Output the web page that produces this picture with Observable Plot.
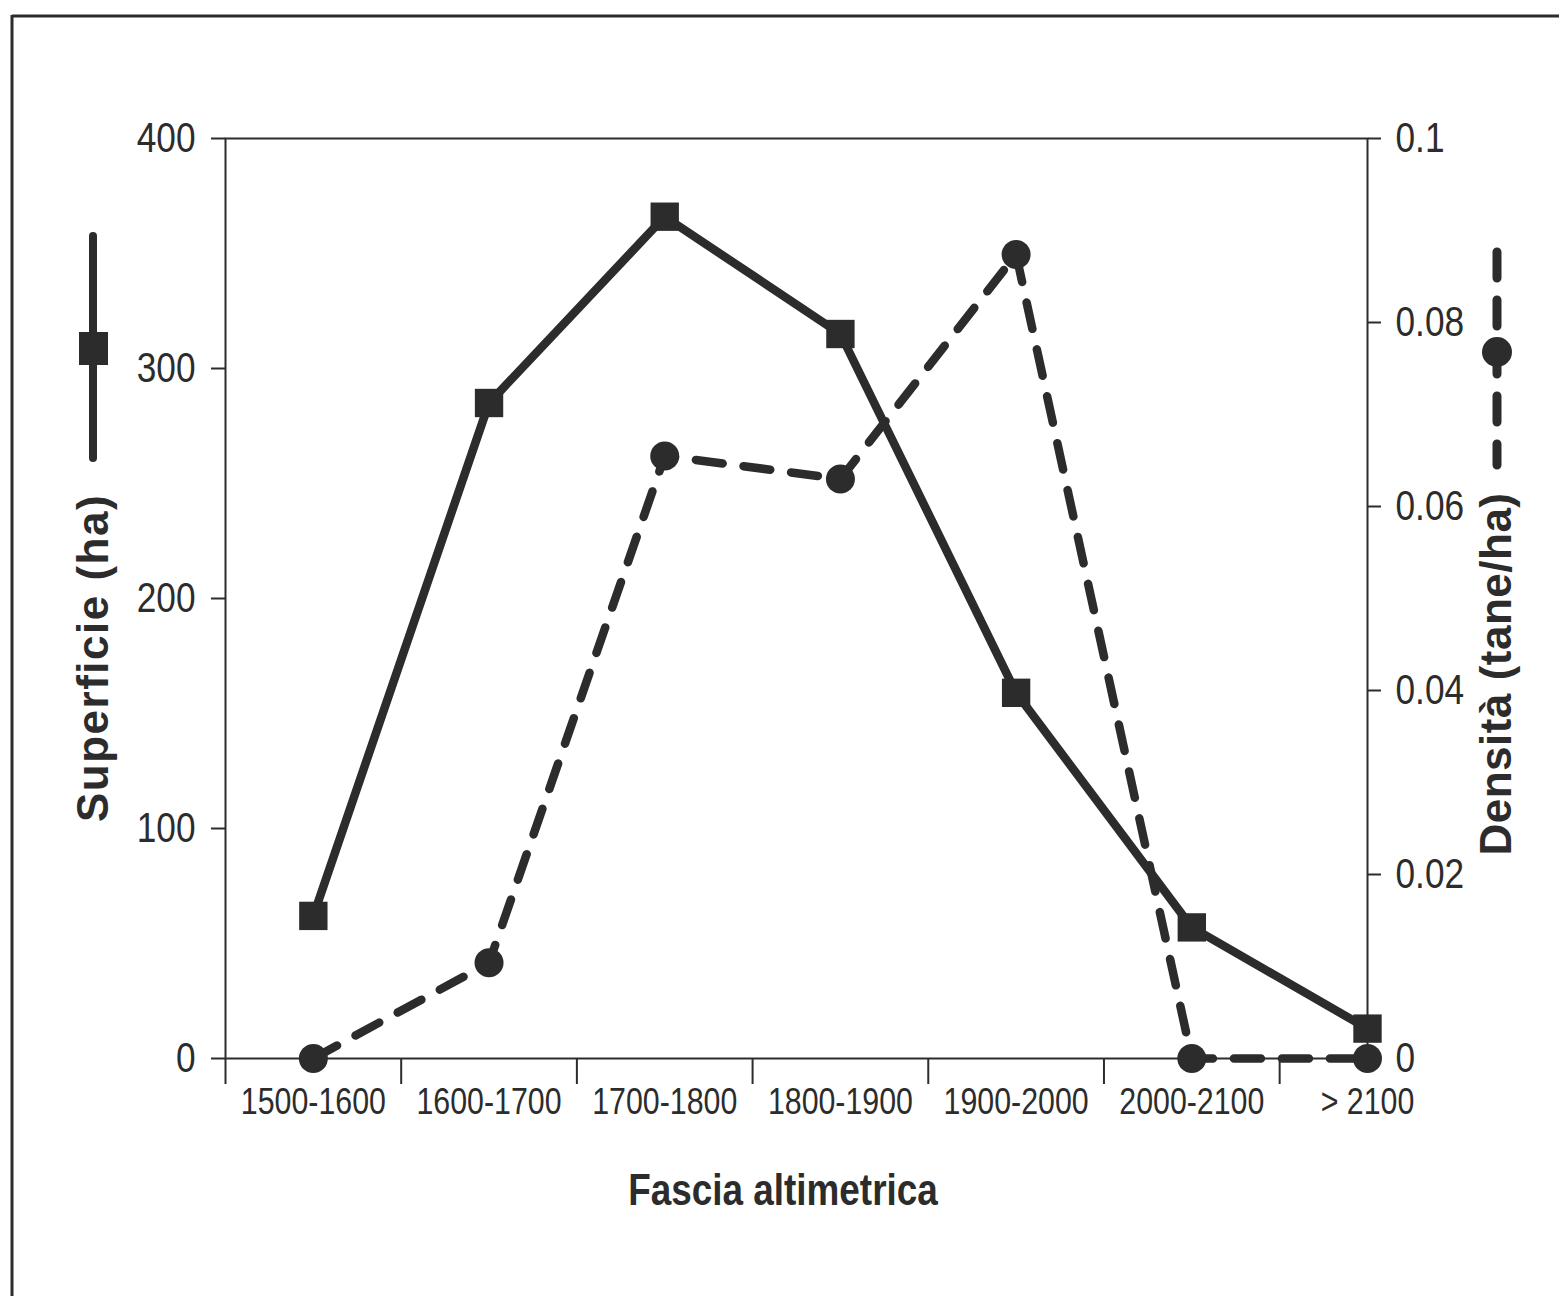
<!DOCTYPE html>
<html>
<head>
<meta charset="utf-8">
<script src="https://cdn.jsdelivr.net/npm/d3@7"></script>
<script src="https://cdn.jsdelivr.net/npm/@observablehq/plot@0.6"></script>
<style>
  html, body { margin: 0; padding: 0; background: #fff; }
  #chart { position: relative; width: 1559px; height: 1296px; }
  svg { display: block; }
</style>
</head>
<body>
<div id="chart"></div>
<script>
// ---- data ----
const categories = ["1500-1600", "1600-1700", "1700-1800", "1800-1900", "1900-2000", "2000-2100", "> 2100"];
const superficie = [62, 285, 366, 315, 159, 57, 13];          // ha (left axis)
const densita = [0, 0.0104, 0.0655, 0.063, 0.0874, 0, 0];      // tane/ha (right axis)
const leftTicks = [0, 100, 200, 300, 400];
const rightTicks = [0, 0.02, 0.04, 0.06, 0.08, 0.1];
const xTitle = "Fascia altimetrica";
const leftTitle = "Superficie (ha)";
const rightTitle = "Densità (tane/ha)";

// right axis maps onto the left scale: 0.1 <-> 400
const k = 400 / 0.1;
const rows = categories.map((c, i) => ({i, cat: c, sup: superficie[i], dens: densita[i]}));

const ink = "#2c2c2c";
const font = "'Liberation Sans', Arial, sans-serif";

const plot = Plot.plot({
  width: 1559,
  height: 1296,
  marginLeft: 225,
  marginRight: 192,
  marginTop: 138,
  marginBottom: 238,
  style: {fontFamily: font, color: ink, background: "#fff", overflow: "visible"},
  x: {type: "linear", domain: [-0.5, 6]},
  y: {domain: [0, 400]},
  marks: [
    Plot.axisY(leftTicks, {anchor: "left", tickSize: 14, tickPadding: 16, fontSize: 43, label: null, stroke: ink, strokeWidth: 2}),
    Plot.axisY(rightTicks.map(d => d * k), {anchor: "right", tickSize: 13, tickPadding: 15, fontSize: 43, label: null,
      tickFormat: d => String(+(d / k).toFixed(2)), stroke: ink, strokeWidth: 2}),
    Plot.axisX(categories.map((c, i) => i - 0.5), {anchor: "bottom", tickSize: 26, tickFormat: () => "", label: null, stroke: ink, strokeWidth: 2}),
    Plot.axisX(categories.map((c, i) => i), {anchor: "bottom", tickSize: 0, tickPadding: 29, fontSize: 37, label: null,
      tickFormat: i => categories[i]}),
    Plot.frame({stroke: ink, strokeWidth: 2}),
    Plot.line(rows, {x: "i", y: d => d.dens * k, stroke: ink, strokeWidth: 8.5, strokeDasharray: "27,21", strokeLinecap: "round"}),
    Plot.line(rows, {x: "i", y: "sup", stroke: ink, strokeWidth: 8.5, strokeLinejoin: "miter"}),
    Plot.dot(rows, {x: "i", y: d => d.dens * k, r: 14.5, fill: ink, stroke: "none"}),
    Plot.dot(rows, {x: "i", y: "sup", symbol: "square", r: 16, fill: ink, stroke: "none"})
  ]
});
document.getElementById("chart").appendChild(plot);

// ---- decorations: outer frame, axis titles, legend glyphs ----
const svg = d3.select(plot);
svg.append("line").attr("x1", 12).attr("x2", 1559).attr("y1", 16).attr("y2", 16).attr("stroke", ink).attr("stroke-width", 3);
svg.append("line").attr("x1", 12).attr("x2", 12).attr("y1", 15).attr("y2", 1296).attr("stroke", ink).attr("stroke-width", 3);

svg.append("text").text(xTitle)
  .attr("transform", "translate(783,1205)").attr("text-anchor", "middle")
  .attr("font-size", 45).attr("font-weight", "bold").attr("fill", ink).attr("font-family", font)
  .attr("class", "squeeze");

svg.append("text").text(leftTitle)
  .attr("transform", "translate(108,658) rotate(-90)").attr("text-anchor", "middle")
  .attr("font-size", 44).attr("font-weight", "bold").attr("fill", ink).attr("font-family", font)
  .attr("letter-spacing", 1.5).attr("class", "wide");

svg.append("text").text(rightTitle)
  .attr("transform", "translate(1511,674) rotate(-90)").attr("text-anchor", "middle")
  .attr("font-size", 44).attr("font-weight", "bold").attr("fill", ink).attr("font-family", font)
  .attr("letter-spacing", 0.5).attr("class", "wide");

// legend glyph: solid line with square (left)
svg.append("line").attr("x1", 93).attr("x2", 93).attr("y1", 236).attr("y2", 458)
  .attr("stroke", ink).attr("stroke-width", 8).attr("stroke-linecap", "round");
svg.append("rect").attr("x", 79).attr("y", 332).attr("width", 29).attr("height", 33).attr("fill", ink);

// legend glyph: dashed line with circle (right)
svg.append("line").attr("x1", 1497).attr("x2", 1497).attr("y1", 252).attr("y2", 465)
  .attr("stroke", ink).attr("stroke-width", 9).attr("stroke-linecap", "round").attr("stroke-dasharray", "26,22");
svg.append("circle").attr("cx", 1497).attr("cy", 352).attr("r", 15).attr("fill", ink);

// condensed lettering (Arial Narrow look): squeeze texts horizontally about their anchor
const squeeze = 0.82;
plot.querySelectorAll("text").forEach(t => {
  if (t.getAttribute("class") === "wide") return;
  const xa = t.getAttribute("x");
  const x = (xa && /^-?[\d.]+$/.test(xa.trim())) ? +xa : 0;
  const tr = t.getAttribute("transform") || "";
  t.setAttribute("transform", `${tr} translate(${x},0) scale(${squeeze},1) translate(${-x},0)`.trim());
});
</script>
</body>
</html>
